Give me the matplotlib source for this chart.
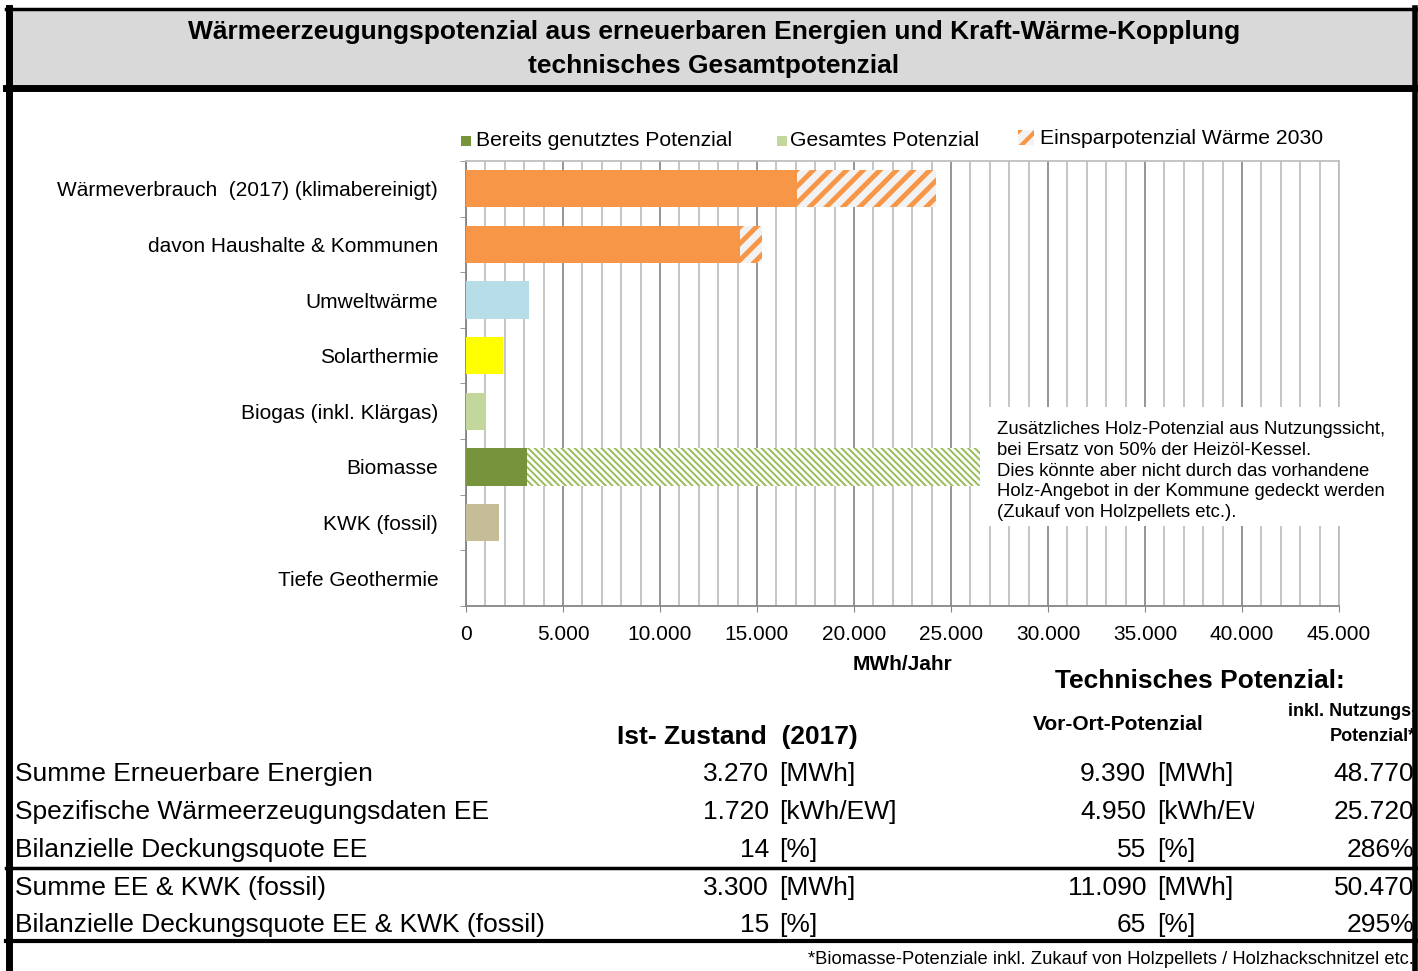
import matplotlib
matplotlib.use("Agg")
import matplotlib.pyplot as plt
from matplotlib.patches import Rectangle
from matplotlib.lines import Line2D
from matplotlib.transforms import Bbox
import numpy as np

plt.rcParams['font.family'] = ['Liberation Sans', 'DejaVu Sans']

# Daten
categories = ["Wärmeverbrauch  (2017) (klimabereinigt)", "davon Haushalte & Kommunen",
              "Umweltwärme", "Solarthermie", "Biogas (inkl. Klärgas)", "Biomasse",
              "KWK (fossil)", "Tiefe Geothermie"]
verbrauch_2030 = [17060, 14120]          # orange, Verbrauch nach Einsparung
einsparung = [7150, 1140]                # schraffiert, Einsparpotenzial 2030
potenzial = [3250, 1920, 1030, 3170, 1700, 0]   # Umweltwärme .. Tiefe Geothermie
potenzial_farben = ["#B7DEE8", "#FFFF00", "#C3D69B", "#77933C", "#C4BD97", "#C3D69B"]
holz_zusatz = 23300                      # zusätzliches Holz-Potenzial (Biomasse)

row_labels = ["Summe Erneuerbare Energien", "Spezifische Wärmeerzeugungsdaten EE",
              "Bilanzielle Deckungsquote EE", "Summe EE & KWK (fossil)",
              "Bilanzielle Deckungsquote EE & KWK (fossil)"]
ist_werte = ["3.270", "1.720", "14", "3.300", "15"]
ist_einheit = ["[MWh]", "[kWh/EW]", "[%]", "[MWh]", "[%]"]
vorort_werte = ["9.390", "4.950", "55", "11.090", "65"]
vorort_einheit = ["[MWh]", "[kWh/EW]", "[%]", "[MWh]", "[%]"]
nutzung_werte = ["48.770", "25.720", "286%", "50.470", "295%"]

W, H = 1418, 971
fig = plt.figure(figsize=(W / 100, H / 100), dpi=100)


def fx(x):
    return x / W


def fy(y):
    return 1 - y / H


# Rahmen und Titelband
fig.add_artist(Rectangle((fx(6), fy(88)), fx(1412) - fx(6), fy(9) - fy(88),
                         transform=fig.transFigure, facecolor="#D9D9D9", edgecolor="none"))
for y, lw in [(9.5, 2.5), (88, 5), (868, 2.5), (941, 3)]:
    fig.add_artist(Line2D([fx(6), 1], [fy(y), fy(y)], transform=fig.transFigure,
                          color="black", lw=lw))
fig.add_artist(Line2D([fx(9), fx(9)], [fy(8), 0], transform=fig.transFigure, color="black", lw=5))
fig.add_artist(Line2D([fx(1415), fx(1415)], [fy(8), 0], transform=fig.transFigure, color="black", lw=4))

fig.text(fx(714), fy(32), "Wärmeerzeugungspotenzial aus erneuerbaren Energien und Kraft-Wärme-Kopplung",
         ha="center", va="center", fontsize=19, fontweight="bold")
fig.text(fx(714), fy(66), "technisches Gesamtpotenzial",
         ha="center", va="center", fontsize=19, fontweight="bold")

# Diagramm
ax = fig.add_axes([fx(466), fy(606), fx(1339) - fx(466), fy(161) - fy(606)])
y = np.arange(len(categories))
h = 0.67
orange = "#F79646"
ax.barh(y[:2], verbrauch_2030, height=h, color=orange, lw=0, zorder=3)
with plt.rc_context({"hatch.linewidth": 3.5}):
    ax.barh(y[:2], einsparung, left=verbrauch_2030, height=h, facecolor="#F2F2F2",
            edgecolor=orange, hatch="//", lw=0, zorder=3)
ax.barh(y[2:], potenzial, height=h, color=potenzial_farben, lw=0, zorder=3)
with plt.rc_context({"hatch.linewidth": 1.4}):
    ax.barh(y[5], holz_zusatz, left=potenzial[3], height=h, facecolor="white",
            edgecolor="#9BBB59", hatch="\\" * 5, lw=0, zorder=3)

ax.set_xlim(0, 45000)
ax.set_ylim(len(categories) - 0.5, -0.5)
ax.set_xticks(np.arange(0, 45001, 5000))
ax.set_xticks(np.arange(0, 45001, 1000), minor=True)
ax.set_xticklabels([f"{v:,}".replace(",", ".") for v in range(0, 45001, 5000)], fontsize=15)
ax.set_yticks(y)
ax.set_yticklabels(categories, fontsize=15)
ax.set_yticks(np.arange(-0.5, len(categories)), minor=True)
ax.tick_params(axis="y", which="major", length=0, pad=20)
ax.tick_params(axis="y", which="minor", length=4, color="#868686", direction="out")
ax.tick_params(axis="x", which="major", length=4, color="#868686", pad=10)
ax.tick_params(axis="x", which="minor", length=0)
ax.grid(axis="x", which="minor", color="#C0C0C0", lw=1.3, zorder=0)
ax.grid(axis="x", which="major", color="#8C8C8C", lw=1.3, zorder=0)
ax.set_axisbelow(True)
for s in ["left", "bottom"]:
    ax.spines[s].set_color("#868686")
    ax.spines[s].set_linewidth(1.3)
for s in ["top", "right"]:
    ax.spines[s].set_color("#BFBFBF")
    ax.spines[s].set_linewidth(1.3)

# Hinweis-Kasten
fig.add_artist(Rectangle((fx(986), fy(526)), fx(1402) - fx(986), fy(407) - fy(526),
                         transform=fig.transFigure, facecolor="white", edgecolor="none", zorder=5))
note = ("Zusätzliches Holz-Potenzial aus Nutzungssicht,\nbei Ersatz von 50% der Heizöl-Kessel.\n"
        "Dies könnte aber nicht durch das vorhandene\nHolz-Angebot in der Kommune gedeckt werden\n"
        "(Zukauf von Holzpellets etc.).")
fig.text(fx(997), fy(471), note, ha="left", va="center", fontsize=13.3, linespacing=1.3, zorder=6)

# Legende
fig.add_artist(Rectangle((fx(461), fy(146)), fx(10), fx(10) * W / H, transform=fig.transFigure,
                         facecolor="#77933C", edgecolor="none"))
fig.text(fx(476), fy(141), "Bereits genutztes Potenzial", ha="left", va="center", fontsize=15.2)
fig.add_artist(Rectangle((fx(777), fy(146)), fx(10), fx(10) * W / H, transform=fig.transFigure,
                         facecolor="#C3D69B", edgecolor="none"))
fig.text(fx(790), fy(141), "Gesamtes Potenzial", ha="left", va="center", fontsize=15.2)
with plt.rc_context({"hatch.linewidth": 3}):
    fig.add_artist(Rectangle((fx(1018), fy(145)), fx(16), fy(130) - fy(145), transform=fig.transFigure,
                             facecolor="#F2F2F2", edgecolor=orange, hatch="//", lw=0))
fig.text(fx(1040), fy(139), "Einsparpotenzial Wärme 2030", ha="left", va="center", fontsize=15.2)

fig.text(fx(902), fy(665), "MWh/Jahr", ha="center", va="center", fontsize=15, fontweight="bold")

# Tabelle
fig.text(fx(1200), fy(681), "Technisches Potenzial:", ha="center", va="center", fontsize=19, fontweight="bold")
fig.text(fx(1118), fy(724), "Vor-Ort-Potenzial", ha="center", va="center", fontsize=15, fontweight="bold")
fig.text(fx(1417), fy(712), "inkl. Nutzungs-", ha="right", va="center", fontsize=13, fontweight="bold")
fig.text(fx(1416), fy(736), "Potenzial*", ha="right", va="center", fontsize=13, fontweight="bold")
fig.text(fx(737), fy(737), "Ist- Zustand  (2017)", ha="center", va="center", fontsize=19, fontweight="bold")

row_y = [774, 812, 850, 888, 925]
clip = Bbox.from_extents(0, 0, 1254, H)
for i, ry in enumerate(row_y):
    fig.text(fx(15), fy(ry), row_labels[i], ha="left", va="center", fontsize=19)
    fig.text(fx(769), fy(ry), ist_werte[i], ha="right", va="center", fontsize=19)
    fig.text(fx(779), fy(ry), ist_einheit[i], ha="left", va="center", fontsize=19)
    fig.text(fx(1146), fy(ry), vorort_werte[i], ha="right", va="center", fontsize=19)
    t = fig.text(fx(1157), fy(ry), vorort_einheit[i], ha="left", va="center", fontsize=19)
    t.set_clip_box(clip)
    t.set_clip_on(True)
    fig.text(fx(1414), fy(ry), nutzung_werte[i], ha="right", va="center", fontsize=19)

fig.text(fx(1414), fy(959), "*Biomasse-Potenziale inkl. Zukauf von Holzpellets / Holzhackschnitzel etc.",
         ha="right", va="center", fontsize=13.2)

fig.savefig("out.png", dpi=100)
